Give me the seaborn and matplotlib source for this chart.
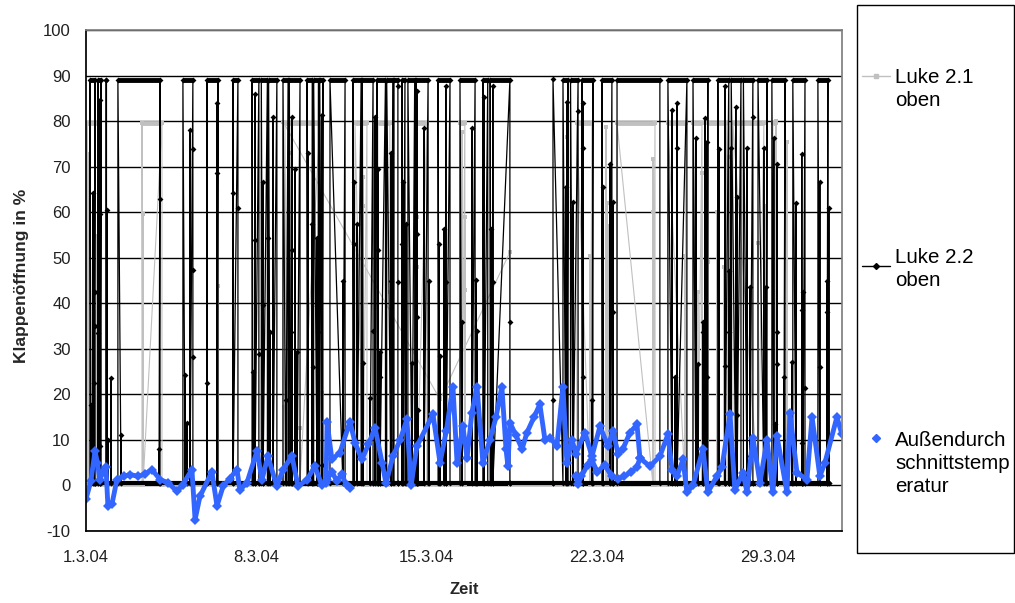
import matplotlib
matplotlib.use('Agg')
import matplotlib.pyplot as plt
import pandas as pd
import seaborn as sns
from matplotlib.lines import Line2D
from matplotlib.patches import Rectangle

# x axis: days since 1.3.04
tick_days = [0, 7, 14, 21, 28]
tick_labels = ['1.3.04', '8.3.04', '15.3.04', '22.3.04', '29.3.04']

legend_labels = ['Luke 2.1\noben', 'Luke 2.2\noben', 'Außendurch\nschnittstemp\neratur']

# Luke 2.1 oben (grey): open ~79.5 %, closed 0 %
l21_open, l21_closed = 79.5, 0.0
l21_start = [0.04, 2.30, 8.17, 11.05, 11.99, 13.59, 15.36, 20.16, 21.81, 23.9, 24.93, 25.54, 26.57, 28.21]
l21_end = [0.57, 3.12, 9.61, 11.54, 12.48, 14.0, 15.56, 20.78, 23.37, 24.64, 25.3, 26.32, 27.84, 28.34]
l21_mid_t = [0.08, 0.37, 0.37, 0.45, 2.34, 5.42, 8.13, 8.29, 8.33, 8.78, 9.69, 11.38, 11.38, 12.48, 13.59,
             13.59, 15.44, 15.56, 15.56, 19.75, 19.75, 20.7, 21.36, 21.4, 21.44, 23.29, 23.29, 24.6, 25.13,
             25.3, 25.54, 25.91, 26.2, 26.37, 27.6, 27.89, 28.34, 28.79]
l21_mid_v = [72.7, 38, 25, 54.7, 59.5, 43.7, 17.3, 20.4, 72.9, 12.7, 20.4, 67.8, 61.3, 42.4, 59,
             48, 77.7, 59, 43, 76.6, 62.3, 50.3, 78.8, 62, 57, 71.6, 60, 50.3, 42.4,
             68.7, 49, 60, 48, 72.2, 53.3, 61.3, 80, 75.5]
# gap in the logged data -> straight connecting line
l21_gap_t = [8.09, 8.09, 14.54, 17.41, 17.41]
l21_gap_v = [0, 79.9, 18.9, 51.2, 0]

# Luke 2.2 oben (black): open ~89 %, closed ~0.5 %
l22_open, l22_closed = 89.0, 0.5
l22_start = [0.16, 0.49, 0.82, 1.31, 3.98, 4.97, 6.04, 6.82, 7.2, 7.5, 8.09, 8.35, 9.08, 9.35, 9.6, 10.02,
             10.96, 11.35, 11.95, 12.35, 12.65, 12.98, 13.22, 13.55, 14.46, 15.36, 16.3, 16.6,
             19.59, 19.9, 20.37, 21.19, 21.81,
             23.9, 24.93, 25.95, 26.5, 27.0, 27.6, 28.17, 29.03, 30.06]
l22_end = [0.37, 0.62, 0.84, 3.04, 4.39, 5.42, 6.24, 7.1, 7.45, 7.84, 8.3, 8.79, 9.3, 9.55, 9.73, 10.64,
           11.3, 11.79, 12.3, 12.6, 12.81, 13.1, 13.5, 14.05, 14.95, 15.98, 16.5, 17.41,
           19.8, 20.21, 20.82, 21.6, 23.57,
           24.68, 25.54, 26.4, 26.9, 27.39, 27.97, 28.71, 29.53, 30.47]
l22_mid_t = [0.21, 0.29, 0.33, 0.37, 0.37, 0.49, 0.57, 0.57, 0.57, 0.86, 0.9, 1.03, 1.44, 3.0, 3.04,
             4.07, 4.15, 4.27, 4.39, 4.39, 4.39, 4.97, 5.38, 5.38, 6.04, 6.24, 6.86, 6.94, 6.94, 7.1,
             7.27, 7.27, 7.47, 7.56, 7.68, 8.21, 8.42, 8.46, 8.46, 8.58, 8.67, 9.12, 9.28, 9.32, 9.49,
             9.49, 9.53, 9.69, 9.69, 10.55, 10.64, 11.01, 11.01, 11.13, 11.38, 11.66, 11.79, 11.87,
             11.99, 11.99, 12.07, 12.07, 12.53, 12.53, 12.81, 12.81, 12.98, 13.02, 13.14, 13.39, 13.59,
             13.59, 13.59, 13.63, 13.88, 14.09, 14.5, 14.54, 14.7, 14.78, 14.78, 15.44, 15.85, 16.02,
             16.06, 16.35, 16.63, 16.71, 16.71, 17.41, 19.18, 19.71, 19.75, 20.0, 20.21, 20.41, 20.41,
             20.41, 20.78, 21.23, 21.52, 21.64, 21.64, 24.07, 24.19, 24.27, 24.27, 25.05, 25.13, 25.34,
             25.34, 25.42, 25.5, 25.5, 26.0, 26.24, 26.24, 26.41, 26.41, 26.49, 26.69, 26.74, 26.74,
             27.15, 27.27, 27.27, 27.39, 27.84, 27.93, 28.25, 28.3, 28.38, 28.38, 28.38, 28.66, 28.99,
             29.16, 29.4, 29.4, 29.4, 29.45, 29.53, 30.14, 30.14, 30.43, 30.43, 30.51]
l22_mid_v = [17.6, 64.3, 22.4, 35, 42.4, 33.4, 84.7, 59.5, 8.6, 60.4, 10, 23.5, 11, 7.9, 62.8,
             24.2, 13.8, 78, 73.8, 28.3, 47.4, 22.6, 83.9, 68.7, 64.3, 61, 25, 86, 54, 28.8,
             66.7, 39.7, 54.4, 33.8, 81, 18.7, 33.8, 81, 51.8, 69.4, 29.2, 72.9, 57.3, 25.9, 54.4,
             39.5, 33.8, 81.4, 4.4, 44.8, 12, 66.7, 53, 57.3, 26.8, 19.1, 34, 81,
             69.4, 51.8, 29.2, 23.9, 72.9, 44.8, 44.6, 87.6, 53, 66.7, 57.3, 26.8, 55.3,
             86.7, 36.9, 16.5, 78.4, 45, 53, 28.5, 56.4, 87.6, 44.6, 35.8, 78.4, 45.2,
             34, 85.2, 56.4, 87.6, 44.6, 35.8, 18.7, 65.6, 84.3, 62.3, 82.3, 83.9, 74.2,
             23.9, 18.7, 65.6, 70.5, 62.3, 38, 82.5, 23.9, 83.9, 74.2, 76.2, 26.6, 35.8,
             33.6, 80.6, 75.3, 23.9, 73.8, 87.8, 26.3, 47, 33.6, 74.2, 83, 63.4, 15.4,
             74, 43.5, 6.4, 81, 74, 43.5, 76.2, 13.4, 70.5, 33.6, 26.6, 23.9, 27,
             62, 72.7, 38.6, 9.4, 42.4, 21.3, 66.7, 25.9, 44.8, 38, 61]
l22_gap_t = [19.18, 19.18]
l22_gap_v = [0.5, 89.3]

# Außendurchschnittstemperatur (blue)
temp_t = [0.0, 0.2, 0.37, 0.47, 0.57, 0.7, 0.82, 0.9, 1.07, 1.27, 1.56, 1.81, 2.14, 2.42, 2.71, 3.04,
          3.37, 3.74, 3.98, 4.35, 4.48, 4.68, 5.17, 5.38, 5.63, 5.9, 6.2, 6.32, 6.61, 7.02, 7.23, 7.47,
          7.84, 8.09, 8.46, 8.71, 9.08, 9.4, 9.69, 9.86, 9.9, 10.1, 10.43, 10.84, 11.05, 11.33, 11.6,
          11.87, 12.16, 12.32, 12.61, 12.9, 13.18, 13.35, 13.59, 14.25, 14.54, 14.8, 15.07, 15.24,
          15.48, 15.65, 15.85, 16.06, 16.3, 16.59, 16.84, 17.08, 17.25, 17.33, 17.41, 17.66, 17.91,
          18.11, 18.4, 18.64, 18.85, 19.06, 19.34, 19.59, 19.75, 19.96, 20.12, 20.49, 20.78, 21.11,
          21.44, 21.64, 21.85, 22.05, 22.34, 22.63, 22.75, 23.16, 23.57, 23.9, 24.07, 24.27, 24.52,
          24.68, 24.93, 25.34, 25.54, 25.91, 26.12, 26.45, 26.65, 26.98, 27.15, 27.39, 27.68, 27.97,
          28.21, 28.38, 28.79, 28.91, 29.2, 29.61, 29.82, 30.14, 30.35, 30.84, 31.05]
temp_v = [-3, 1, 7.5, 5, 1.3, 3, 4, -4.5, -4, 1.3, 2, 2.4, 2, 2.5, 3.5, 1.3,
          0.6, -1.3, 0.2, 3.5, -7.5, -2.4, 3, -4.5, -0.2, 1.5, 3.5, -1, 0.6, 7.5, 1.3, 6.4,
          -0.2, 3.5, 6.4, -0.2, 1.3, 4.2, 0, 0.5, 14, 5.7, 7.2, 14, 9.4, 5.7, 9,
          12.7, 5, 0.5, 6.4, 10, 14.5, 0, 8.6, 15.6, 5, 12, 21.7, 5,
          13, 6, 16, 21.7, 5, 10, 15, 21.7, 8, 4.2, 13.8, 11, 8,
          11.6, 15, 17.8, 10, 10.5, 8.6, 21.7, 5, 10, 7, 11.6, 6.4, 13,
          8.6, 12, 7, 8, 11.6, 13.4, 6, 4.2, 6.4, 11.2, 3.5, 2, 5.7,
          -1.5, 0, 8, -1.5, 2, 4, 15.6, -1, 2.8, -1.5, 10.5, 0.6, 10,
          -1.5, 10.8, -1.5, 16, 2.8, 1.3, 15, 2, 5, 15, 11.2]
# overlapping lower traces
temp_lo1_t = [9.9, 10.1, 10.3, 10.5, 10.7, 10.84]
temp_lo1_v = [1.3, 3, 1, 2.5, 0, -0.5]
temp_lo2_t = [20.12, 20.2, 20.35, 20.6, 20.78, 21.0, 21.3, 21.6, 21.85, 22.1, 22.4, 22.63, 22.75]
temp_lo2_v = [2, 0.3, 2, 4.5, 5.5, 3, 4.5, 2, 1.5, 2, 3, 4, 6]


def build_luke(starts, ends, mid_t, mid_v, v_open, v_closed, gap_t, gap_v):
    rows = []
    for a, b in zip(starts, ends):
        rows += [(a, v_closed), (a, v_open), (b, v_open), (b, v_closed)]
    for t, v in zip(mid_t, mid_v):
        rows += [(t, v_closed), (t, v), (t, v_closed)]
    df = pd.DataFrame(rows, columns=['t', 'v'])
    # points logged inside the gap form their own path
    df['seg'] = ((df['t'] > gap_t[0]) & (df['t'] < gap_t[-1])).astype(int)
    gap = pd.DataFrame({'t': gap_t, 'v': gap_v, 'seg': 0})
    df = pd.concat([df, gap], ignore_index=True)
    df['k'] = range(len(df))
    return df.sort_values(['seg', 't', 'k'], kind='mergesort').reset_index(drop=True)


l21 = build_luke(l21_start, l21_end, l21_mid_t, l21_mid_v, l21_open, l21_closed, l21_gap_t, l21_gap_v)
l22 = build_luke(l22_start, l22_end, l22_mid_t, l22_mid_v, l22_open, l22_closed, l22_gap_t, l22_gap_v)
temp = pd.concat([
    pd.DataFrame({'t': temp_t, 'v': temp_v, 'seg': 0}),
    pd.DataFrame({'t': temp_lo1_t, 'v': temp_lo1_v, 'seg': 1}),
    pd.DataFrame({'t': temp_lo2_t, 'v': temp_lo2_v, 'seg': 2}),
], ignore_index=True)

grey = '#c0c0c0'
blue = '#3366ff'

sns.set_theme(style='white')
plt.rcParams['font.family'] = ['Liberation Sans', 'DejaVu Sans']
plt.rcParams['axes.unicode_minus'] = False

fig = plt.figure(figsize=(10.15, 6.03), dpi=100)
ax = fig.add_axes([86 / 1015, 1 - 531 / 603, 756 / 1015, 501 / 603])

# Luke 2.1
sns.lineplot(data=l21, x='t', y='v', units='seg', estimator=None, sort=False, color=grey,
             lw=0.8, marker='s', markersize=2.5, markeredgewidth=0, ax=ax, legend=False)
ax.hlines([l21_open] * len(l21_start), l21_start, l21_end, color=grey, lw=3.5)

# Luke 2.2
sns.lineplot(data=l22, x='t', y='v', units='seg', estimator=None, sort=False, color='black',
             lw=0.9, marker='D', markersize=3, markeredgewidth=0, ax=ax, legend=False)
ax.hlines([l22_open] * len(l22_start), l22_start, l22_end, color='black', lw=3.5)
ax.hlines(l22_closed, l22['t'].min(), l22['t'].max(), color='black', lw=3)

# temperature
sns.lineplot(data=temp, x='t', y='v', units='seg', estimator=None, sort=False, color=blue,
             lw=3.5, marker='D', markersize=5.5, markeredgewidth=0, ax=ax, legend=False)

ax.set_xlim(0, 31.05)
ax.set_ylim(-10, 100)
ax.set_yticks(range(-10, 101, 10))
ax.set_xticks(tick_days)
ax.set_xticklabels(tick_labels)
ax.yaxis.grid(True, color='black', lw=1)
ax.xaxis.grid(False)
ax.set_axisbelow(True)
for side in ['left', 'bottom']:
    ax.spines[side].set_color('black')
for side in ['top', 'right']:
    ax.spines[side].set_color('#808080')
ax.tick_params(axis='y', direction='out', length=5, width=1, color='black', labelsize=12, pad=6)
ax.tick_params(axis='x', direction='out', length=4, width=1, color='black', labelsize=12, pad=9.5)
for lab in ax.get_xticklabels() + ax.get_yticklabels():
    lab.set_color('#202020')

ax.set_xlabel('Zeit', fontsize=12, fontweight='bold')
ax.set_ylabel('Klappenöffnung in %', fontsize=12.5, fontweight='bold')
ax.xaxis.set_label_coords(0.5, -0.102)
ax.yaxis.set_label_coords(-0.075, 0.509)

# legend box drawn by hand (wide spacing as in the original)
W, H = 1015, 603
fig.add_artist(Rectangle((857 / W, 1 - 553 / H), 157 / W, 548 / H, fill=False, ec='black', lw=1,
                         transform=fig.transFigure))
handle_y = [76, 266, 438]
text_base = [83, 263, 446]
fig.add_artist(Line2D([862 / W, 890 / W], [1 - handle_y[0] / H] * 2, color=grey, lw=1,
                      transform=fig.transFigure))
fig.add_artist(Line2D([876 / W], [1 - handle_y[0] / H], color=grey, marker='s', markersize=2.5,
                      transform=fig.transFigure))
fig.add_artist(Line2D([862 / W, 890 / W], [1 - handle_y[1] / H] * 2, color='black', lw=1,
                      transform=fig.transFigure))
fig.add_artist(Line2D([876 / W], [1 - handle_y[1] / H], color='black', marker='D', markersize=3,
                      transform=fig.transFigure))
fig.add_artist(Line2D([876 / W], [1 - handle_y[2] / H], color=blue, marker='D', markersize=4,
                      lw=0, transform=fig.transFigure))
for lab, yb in zip(legend_labels, text_base):
    for i, line in enumerate(lab.split('\n')):
        fig.text(895 / W, 1 - (yb + 23 * i) / H, line, fontsize=14.8, va='baseline', ha='left',
                 color='black')

fig.savefig('out.png', dpi=100)
